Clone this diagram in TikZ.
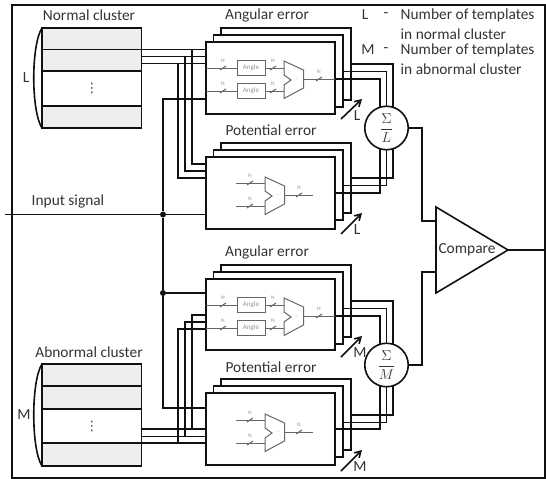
\documentclass[tikz,border=0pt]{standalone}
\usepackage{fontspec}
\setmainfont{Carlito}
\newfontfamily\symbolfont{DejaVu Sans}
\usetikzlibrary{arrows.meta,calc}
\definecolor{ink}{HTML}{111111}
\definecolor{txt}{HTML}{333333}
\definecolor{cellgray}{HTML}{EEEEEE}
\definecolor{innergray}{HTML}{666666}
\tikzset{
  wire/.style={draw=ink,line width=1.6pt},
  layerbox/.style={draw=ink,line width=1.6pt,fill=white,inner sep=0pt,outer sep=0pt,anchor=north west},
  cellbox/.style={draw=ink,line width=1.6pt,inner sep=0pt,outer sep=0pt,anchor=north west,minimum width=99.5pt},
  label/.style={text=txt,font=\fontsize{15.4}{17}\selectfont,inner sep=0pt},
  tinyN/.style={text=innergray!70,font=\fontsize{5.5}{5.5}\selectfont,inner sep=0pt},
  anglebox/.style={draw=innergray,line width=1pt,fill=white,text=innergray!70,font=\fontsize{7}{7}\selectfont,inner sep=0pt,minimum width=28pt,minimum height=15pt},
  inwire/.style={draw=innergray,line width=1pt},
  junction/.style={circle,fill=ink,inner sep=0pt,minimum size=6pt},
  sumnode/.style={circle,draw=ink,line width=1.6pt,fill=white,inner sep=0pt,minimum size=43.5pt,text=txt,font=\fontsize{14}{16}\selectfont},
  multiarrow/.style={draw=ink,line width=1.6pt,-{Straight Barb[length=6pt,width=7pt]}},
}
% name, top y of rear layer, height of rear layers, height of front layer
\newcommand{\errstack}[4]{%
  \node[layerbox,minimum width=130pt,minimum height=#3pt] (#1c) at (221,#2) {};
  \node[layerbox,minimum width=129.5pt,minimum height=#3pt] (#1b) at (213.5,#2+7) {};
  \node[layerbox,minimum width=129pt,minimum height=#4pt] (#1a) at (206,#2+14) {};
}
\newcommand{\slashN}[3]{%
  \draw[inwire] (#1-3,#2+2) -- (#1+3,#2-2);
  \node[tinyN] (#3) at (#1,#2-7.5) {N};
}
\newcommand{\muxshape}{%
  (284,61) -- (303.5,70) -- (303.5,88) -- (284,98.5) -- (284,85) -- (291,80) -- (284,75) -- cycle
}
\newcommand{\angularinner}[2]{%
  \begin{scope}[shift={(0,#2)}]
    \node[anglebox] (#1p) at (251,68) {Angle};
    \node[anglebox] (#1q) at (251,91) {Angle};
    \coordinate (#1w1) at (206,68);
    \coordinate (#1w2) at (206,91);
    \coordinate (#1m1) at (284,68);
    \coordinate (#1m2) at (284,91);
    \coordinate (#1o) at (303.5,79);
    \coordinate (#1e) at (335,79);
    \draw[inwire] (#1w1) -- (#1p) -- (#1m1);
    \draw[inwire] (#1w2) -- (#1q) -- (#1m2);
    \draw[inwire] (#1o) -- (#1e);
    \draw[inwire,fill=white] \muxshape;
    \node[tinyN] (#1d) at (297,79.5) {-};
    \slashN{223}{68}{#1n1}
    \slashN{223}{91}{#1n2}
    \slashN{273}{68}{#1n3}
    \slashN{273}{91}{#1n4}
    \slashN{319}{79}{#1n5}
  \end{scope}
}
\newcommand{\potentialinner}[2]{%
  \begin{scope}[shift={(0,#2)}]
    \coordinate (#1w1) at (236,183);
    \coordinate (#1w2) at (236,206);
    \coordinate (#1m1) at (265,183);
    \coordinate (#1m2) at (265,206);
    \coordinate (#1o) at (284.5,195);
    \coordinate (#1e) at (313,195);
    \draw[inwire] (#1w1) -- (#1m1);
    \draw[inwire] (#1w2) -- (#1m2);
    \draw[inwire] (#1o) -- (#1e);
    \begin{scope}[shift={(-19,116)}]
      \draw[inwire,fill=white] \muxshape;
      \node[tinyN] (#1d) at (297,79.5) {-};
    \end{scope}
    \slashN{250}{183}{#1n1}
    \slashN{250}{206}{#1n2}
    \slashN{299}{195}{#1n5}
  \end{scope}
}
% name, row boundaries y0 y1 y2 y3 y4
\newcommand{\clusterbox}[6]{%
  \pgfmathsetlengthmacro{\hA}{#3-#2}%
  \pgfmathsetlengthmacro{\hB}{#4-#3}%
  \pgfmathsetlengthmacro{\hC}{#5-#4}%
  \pgfmathsetlengthmacro{\hD}{#6-#5}%
  \node[cellbox,fill=cellgray,minimum height=\hA] (#1r1) at (42,#2) {};
  \node[cellbox,fill=cellgray,minimum height=\hB] (#1r2) at (42,#3) {};
  \node[cellbox,fill=white,minimum height=\hC] (#1r3) at (42,#4) {};
  \node[cellbox,fill=cellgray,minimum height=\hD] (#1r4) at (42,#5) {};
  \node[text=txt,inner sep=0pt,font=\symbolfont\fontsize{13}{13}\selectfont] (#1dots) at (#1r3.center) {⋮};
  \draw[wire] (#1r1.north west) .. controls ($(#1r1.north west)+(-11,17)$) and ($(#1r4.south west)+(-11,-17)$) .. (#1r4.south west);
}
\begin{document}
\begin{tikzpicture}[x=1pt,y=-1pt]
\useasboundingbox (0,0) rectangle (546,479);
\node[draw=ink,line width=1.6pt,inner sep=0pt,outer sep=0pt,anchor=north west,minimum width=533pt,minimum height=473pt] (frame) at (12,5) {};

% error stacks
\errstack{ua}{28}{72}{72}
\errstack{up}{143}{70}{72}
\errstack{la}{265}{72}{71}
\errstack{lp}{379}{71}{72}
\angularinner{uai}{0}
\potentialinner{upi}{0}
\angularinner{lai}{237}
\potentialinner{lpi}{237}

% clusters
\clusterbox{nc}{28}{49.5}{71}{106}{128}
\clusterbox{ac}{364}{386}{409}{443}{466}

% normal cluster wires to the upper stacks
\draw[wire] (ncr2.north east) -- (uaa.west |- ncr2.north east);
\draw[wire] (ncr2.east |- 0,56.5) -- (uaa.west |- 0,56.5);
\draw[wire] (ncr2.east |- 0,63.5) -- (uaa.west |- 0,63.5);
\coordinate (nv1) at (192,49.5);
\coordinate (nv2) at (185,56.5);
\coordinate (nv3) at (178,63.5);
\draw[wire] (nv1) |- (upa.west |- 0,164);
\draw[wire] (nv2) |- (upa.west |- 0,171);
\draw[wire] (nv3) |- (upa.west |- 0,178);

% abnormal cluster wires to the lower stacks
\draw[wire] (acr3.east |- 0,429) -- (lpa.west |- 0,429);
\draw[wire] (acr3.east |- 0,436.5) -- (lpa.west |- 0,436.5);
\draw[wire] (acr4.north east) -- (lpa.west |- acr4.north east);
\coordinate (av1) at (192,429);
\coordinate (av2) at (185,436.5);
\coordinate (av3) at (178,443);
\draw[wire] (av1) |- (laa.west |- 0,315);
\draw[wire] (av2) |- (laa.west |- 0,322);
\draw[wire] (av3) |- (laa.west |- 0,329);

% input signal
\coordinate (instart) at (5,214.5);
\node[junction] (j1) at (163,214.5) {};
\node[junction] (j2) at (163,293) {};
\draw[wire] (instart) -- (j1) -- (upa.west |- j1);
\draw[wire] (uaa.west |- 0,99) -| (j1);
\draw[wire] (j1) -- (j2);
\draw[wire] (j2) -- (laa.west |- j2);
\draw[wire] (j2) |- (lpa.west |- 0,408);

% outputs to the summers
\coordinate (s1c) at (386.5,128);
\coordinate (s2c) at (386.5,365);
\draw[wire] (uaa.east |- 0,79) -| (380,128);
\draw[wire] (uab.east |- 0,71.5) -| (s1c);
\draw[wire] (uac.east |- 0,64) -| (393,128);
\draw[wire] (upa.east |- 0,193) -| (380,128);
\draw[wire] (upb.east |- 0,185.5) -| (s1c);
\draw[wire] (upc.east |- 0,178) -| (393,128);
\draw[wire] (laa.east |- 0,316) -| (380,365);
\draw[wire] (lab.east |- 0,308.5) -| (s2c);
\draw[wire] (lac.east |- 0,301) -| (393,365);
\draw[wire] (lpa.east |- 0,429) -| (380,365);
\draw[wire] (lpb.east |- 0,422.5) -| (s2c);
\draw[wire] (lpc.east |- 0,415) -| (393,365);
\node[sumnode] (sum1) at (s1c) {$\displaystyle\frac{\Sigma}{L}$};
\node[sumnode] (sum2) at (s2c) {$\displaystyle\frac{\Sigma}{M}$};

% comparator
\coordinate (cmpA) at (436,207);
\coordinate (cmpB) at (436,293);
\coordinate (cmpT) at (508,250);
\coordinate (outend) at (545,250);
\draw[wire,fill=white,line join=miter] (cmpA) -- (cmpT) -- (cmpB) -- cycle;
\node[label] (cmp) at (467,249.5) {Compare};
\draw[wire] (sum1.east) -| (422,221) -- (436,221);
\draw[wire] (sum2.east) -| (422,272) -- (436,272);
\draw[wire] (cmpT) -- (outend);

% multiplicity arrows
\coordinate (a1s) at (341,119); \coordinate (a1e) at (362,99);
\coordinate (a2s) at (341,234); \coordinate (a2e) at (362,213);
\coordinate (a3s) at (341,357); \coordinate (a3e) at (362,336);
\coordinate (a4s) at (341,471); \coordinate (a4e) at (362,450);
\draw[multiarrow] (a1s) -- (a1e);
\draw[multiarrow] (a2s) -- (a2e);
\draw[multiarrow] (a3s) -- (a3e);
\draw[multiarrow] (a4s) -- (a4e);
\node[label] (a1l) at (357,116) {L};
\node[label] (a2l) at (357,230) {L};
\node[label] (a3l) at (360,353) {M};
\node[label] (a4l) at (360,467) {M};

% texts
\node[label] (t1) at (89,15) {Normal cluster};
\node[label] (t2) at (267,15) {Angular error};
\node[label] (t3) at (271,130) {Potential error};
\node[label] (t4) at (267,252) {Angular error};
\node[label] (t5) at (271,367) {Potential error};
\node[label] (t6) at (89,352) {Abnormal cluster};
\node[label] (t7) at (68,201) {Input signal};
\node[label] (t8) at (26,78) {L};
\node[label] (t9) at (24,415) {M};
\node[label] (k1) at (365,15) {L};
\node[label] (k2) at (386,15) {-};
\node[label,anchor=west] (k3) at (400.5,15) {Number of templates};
\node[label,anchor=west] (k4) at (400.5,34) {in normal cluster};
\node[label] (k5) at (368,50) {M};
\node[label] (k6) at (386,50) {-};
\node[label,anchor=west] (k7) at (400.5,50) {Number of templates};
\node[label,anchor=west] (k8) at (400.5,69) {in abnormal cluster};
\end{tikzpicture}
\end{document}
